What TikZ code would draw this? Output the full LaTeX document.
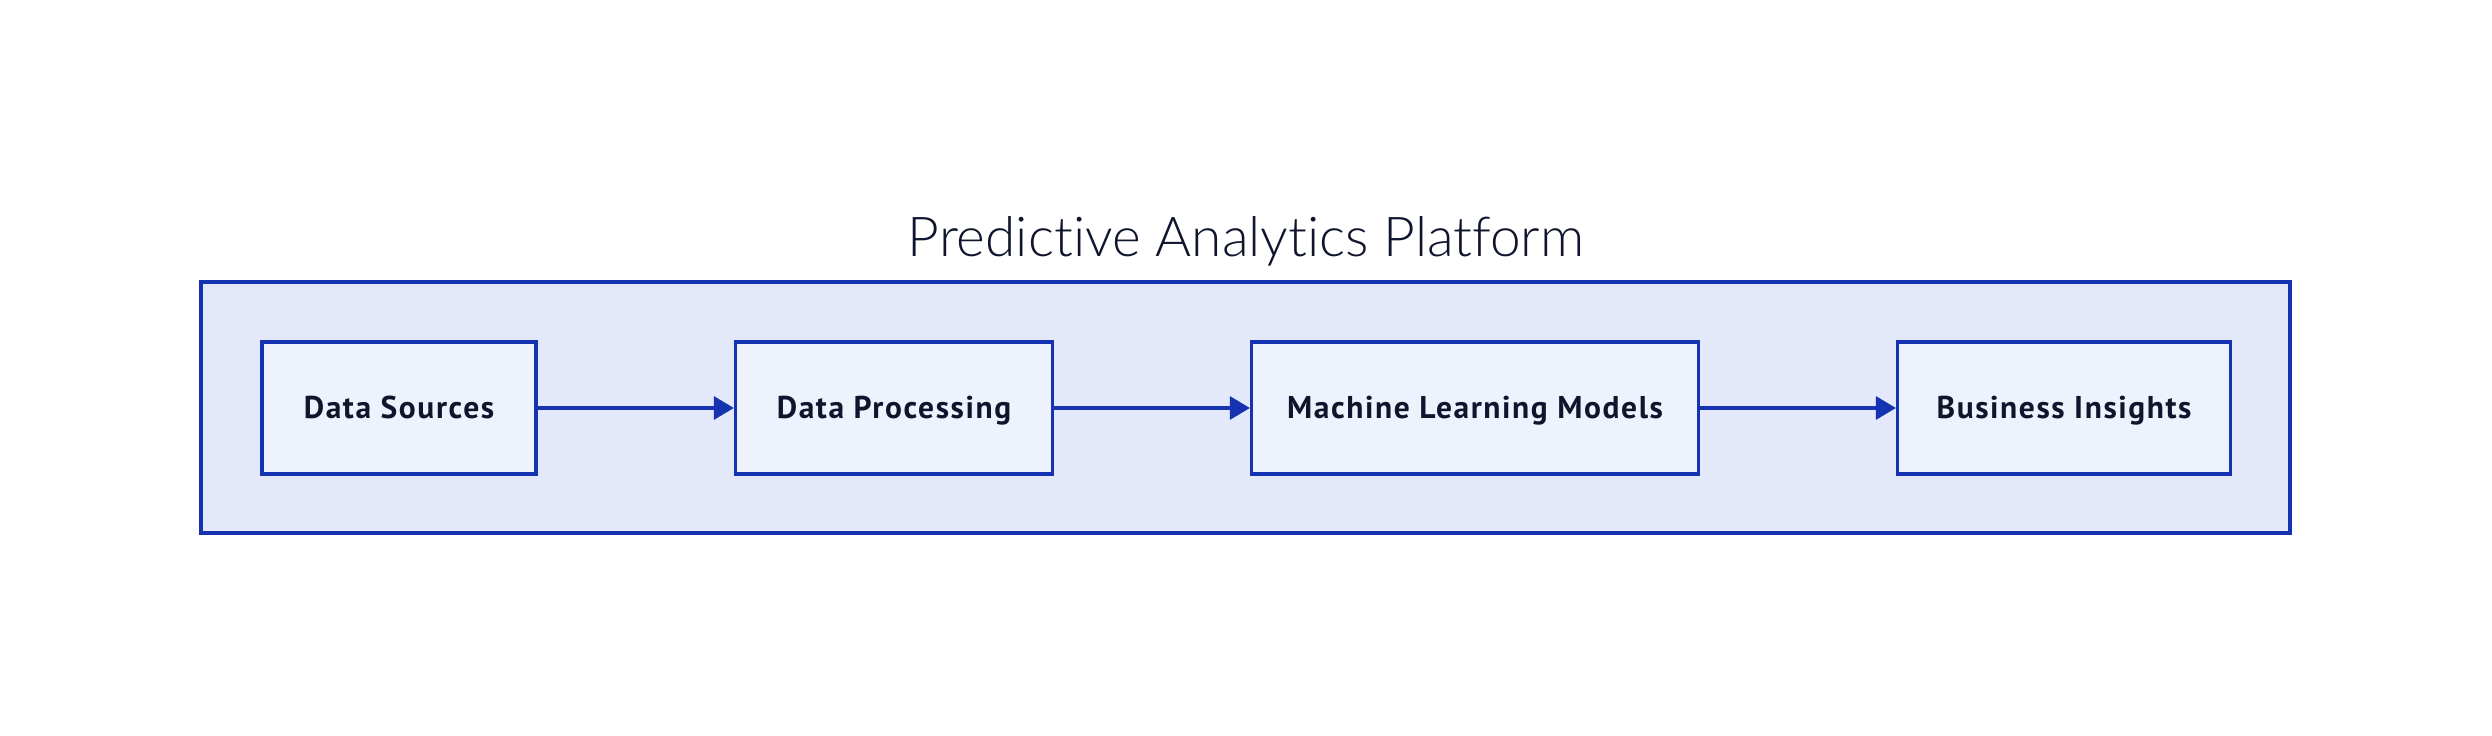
\documentclass[tikz,border=0pt]{standalone}
\usepackage{fontspec}
\setmainfont{PT Sans}[LetterSpace=5]
\newfontfamily\titlefont{Lato Light}[Ligatures={NoCommon}]
\usetikzlibrary{arrows.meta}
\definecolor{edgeblue}{HTML}{1533B0}
\definecolor{outerfill}{HTML}{E3E8FA}
\definecolor{boxfill}{HTML}{EEF2FC}
\definecolor{inkc}{HTML}{10152E}
\tikzset{
  stagebox/.style={draw=edgeblue, fill=boxfill, line width=3.2pt, minimum height=132pt,
    inner sep=0pt, text height=21pt, text depth=0pt,
    font=\fontsize{31.5}{36}\selectfont\bfseries, text=inkc},
  flow/.style={draw=edgeblue, line width=3.2pt, -{Triangle[length=20pt,width=23pt]}},
}
\begin{document}
\begin{tikzpicture}[x=1pt,y=-1pt]
\useasboundingbox (0,0) rectangle (2492,736);
\fill[white] (0,0) rectangle (2492,736);
\node[draw=edgeblue, fill=outerfill, line width=3.2pt, minimum width=2089pt, minimum height=251pt, inner sep=0pt] (frame) at (1245.5,407.5) {};
\node[anchor=base, font=\titlefont\fontsize{55}{60}\selectfont, text=inkc] (title) at (1246,256) {Predictive Analytics Platform};
\node[stagebox, minimum width=274pt] (ds) at (399,408) {Data Sources};
\node[stagebox, minimum width=317pt] (dp) at (894,408) {Data Processing};
\node[stagebox, minimum width=447pt] (ml) at (1475,408) {Machine Learning Models};
\node[stagebox, minimum width=333pt] (bi) at (2064,408) {Business Insights};
\draw[flow] (ds) -- (dp);
\draw[flow] (dp) -- (ml);
\draw[flow] (ml) -- (bi);
\end{tikzpicture}
\end{document}
